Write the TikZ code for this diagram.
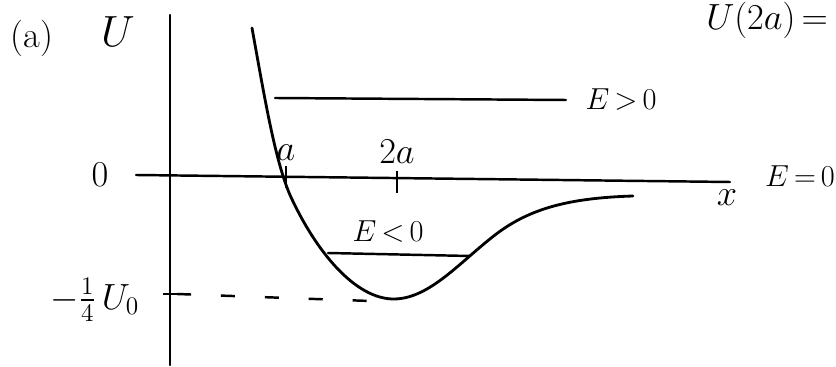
\documentclass[tikz,border=0pt]{standalone}
\usepackage{amsmath}
\usetikzlibrary{positioning}
\tikzset{
  axis/.style ={line width=1.4pt, line cap=round},
  curve/.style={line width=1.6pt, line cap=round, line join=round},
  level/.style={line width=1.4pt, line cap=round},
  guide/.style={line width=1.4pt, dash pattern=on 8pt off 17pt},
  tick/.style ={line width=1.3pt},
  lbl/.style  ={font=\huge, inner sep=1pt},
  elbl/.style ={font=\LARGE, inner sep=1pt},
  big/.style  ={font=\fontsize{30}{32}\selectfont, inner sep=1pt},
}
\begin{document}
\begin{tikzpicture}[x=0.02cm, y=-0.02cm]
  \useasboundingbox (0,0) rectangle (836,367);
  % axes
  \coordinate (yb) at (170,15);
  \coordinate (ye) at (170,365);
  \coordinate (xb) at (136,175);
  \coordinate (xe) at (730,182);
  \draw[axis] (yb) -- (ye);
  \draw[axis] (xb) -- (xe);
  % ticks at a and 2a
  \coordinate (ta) at (286,166);
  \coordinate (tb) at (286,188);
  \coordinate (tc) at (397,171);
  \coordinate (td) at (397,193);
  \draw[tick] (ta) -- (tb);
  \draw[tick] (tc) -- (td);
  % potential curve
  \draw[curve] (252,28) .. controls (265,100) and (275,160) .. (290,195)
    .. controls (315,250) and (355,300) .. (395,299)
    .. controls (430,298) and (460,262) .. (495,235)
    .. controls (530,208) and (570,198) .. (633,196);
  % energy levels
  \coordinate (hi1) at (275,98);
  \coordinate (hi2) at (566,100);
  \coordinate (lo1) at (328,253);
  \coordinate (lo2) at (470,256);
  \draw[level] (hi1) -- (hi2);
  \draw[level] (lo1) -- (lo2);
  % minimum
  \coordinate (m1) at (163,294);
  \coordinate (m2) at (177,294);
  \coordinate (m3) at (370,301);
  \draw[tick] (m1) -- (m2);
  \draw[guide] (m2) -- (m3);
  % labels
  \node[lbl] (pa) at (32,38) {(a)};
  \node[big] (U) at (118,32) {$U$};
  \node[lbl] (zero) at (100,175) {$0$};
  \node[lbl] (Umin) at (95,300) {$-\tfrac{1}{4}\,U_0$};
  \node[lbl, above=2pt of ta] (la) {$a$};
  \node[lbl, above=3pt of tc] (l2a) {$2a$};
  \node[elbl, right=10pt of hi2] (Epos) {$E\mkern-2mu>\mkern-2mu0$};
  \node[elbl] (Eneg) at (388,232) {$E\mkern-2mu<\mkern-2mu0$};
  \node[elbl] (Ezero) at (800,176) {$E\mkern-2mu=\mkern-2mu0$};
  \node[lbl] (x) at (727,198) {$x$};
  \node[lbl, anchor=base east] (U2a) at (830,30) {$U(2a)\mkern-2mu=$};
\end{tikzpicture}
\end{document}
